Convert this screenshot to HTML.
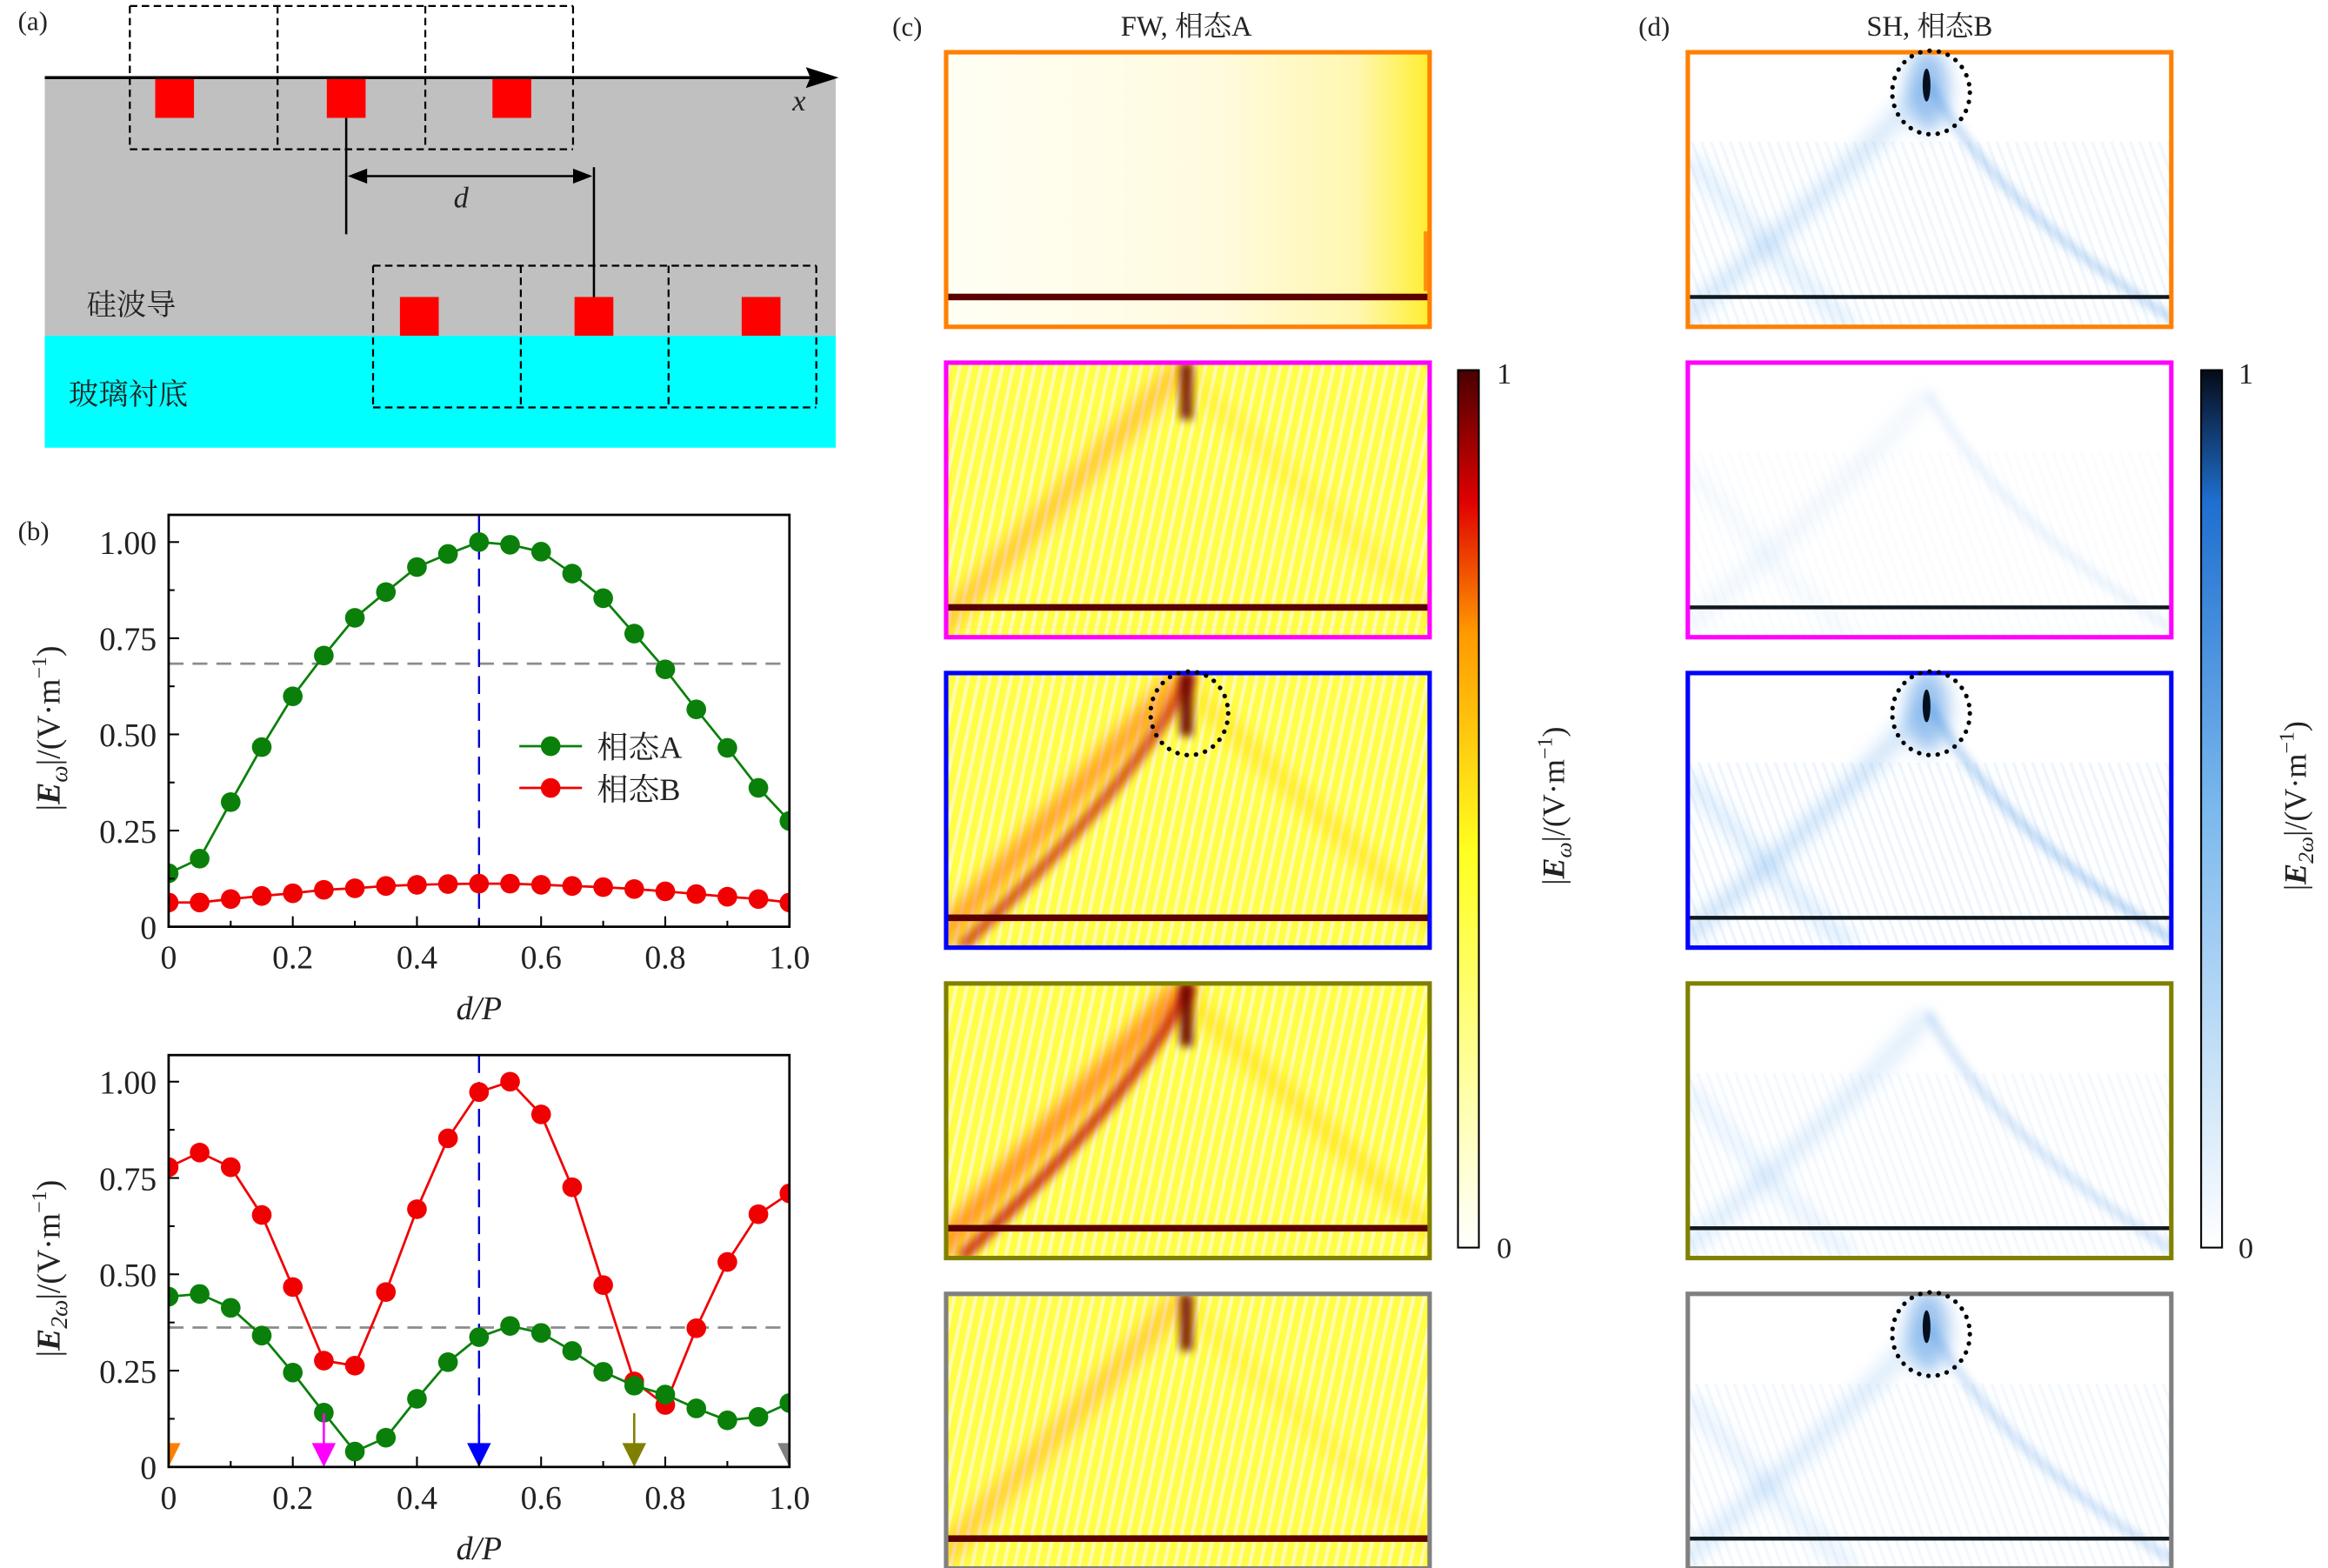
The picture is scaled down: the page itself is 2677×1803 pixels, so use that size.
<!DOCTYPE html>
<html><head><meta charset="utf-8">
<style>
html,body{margin:0;padding:0;background:#fff;}
svg{display:block;}
text{font-family:"Liberation Serif","Noto Serif CJK SC",serif;fill:#222;}
</style></head>
<body>
<svg id="fig" width="2677" height="1803" viewBox="0 0 1560 1050.7" preserveAspectRatio="none" xmlns="http://www.w3.org/2000/svg">
<defs>
  <filter id="blur3" x="-50%" y="-50%" width="200%" height="200%"><feGaussianBlur stdDeviation="3"/></filter>
  <filter id="blur6" x="-50%" y="-50%" width="200%" height="200%"><feGaussianBlur stdDeviation="6"/></filter>
  <linearGradient id="cbFW" x1="0" y1="1" x2="0" y2="0">
    <stop offset="0" stop-color="#ffffff"/><stop offset="0.45" stop-color="#ffff20"/>
    <stop offset="0.7" stop-color="#ff9a00"/><stop offset="0.85" stop-color="#e00000"/><stop offset="1" stop-color="#4a0000"/>
  </linearGradient>
  <linearGradient id="cbSH" x1="0" y1="1" x2="0" y2="0">
    <stop offset="0" stop-color="#ffffff"/><stop offset="0.5" stop-color="#7ab8ee"/>
    <stop offset="0.85" stop-color="#1f6fd0"/><stop offset="1" stop-color="#050a18"/>
  </linearGradient>
  <linearGradient id="fw1" x1="0" y1="0" x2="1" y2="0">
    <stop offset="0" stop-color="#fffef4"/><stop offset="0.55" stop-color="#fffbe0"/><stop offset="0.85" stop-color="#fff7b0"/><stop offset="1" stop-color="#ffee30"/>
  </linearGradient>
  <pattern id="stripesY" width="7" height="10" patternUnits="userSpaceOnUse" patternTransform="rotate(12)">
    <rect width="7" height="10" fill="#ffff30"/><rect width="2.5" height="10" fill="#fffcd0"/>
  </pattern>
  <pattern id="stripesB" width="6" height="10" patternUnits="userSpaceOnUse" patternTransform="rotate(-20)">
    <rect width="6" height="10" fill="#ffffff"/><rect width="2" height="10" fill="#e6f1fc"/>
  </pattern>
</defs>

<!-- ============ Panel (a) ============ -->
<g>
  <text x="12" y="20" font-size="18">(a)</text>
  <rect x="30" y="52" width="530" height="173" fill="#c0c0c0"/>
  <rect x="30" y="225" width="530" height="75" fill="#00ffff"/>
  <line x1="30" y1="52" x2="548" y2="52" stroke="#000" stroke-width="2"/>
  <polygon points="562,52 540,45 543,52 540,59" fill="#000"/>
  <text x="531" y="74" font-size="20" font-style="italic">x</text>
  <g fill="none" stroke="#000" stroke-width="1.3" stroke-dasharray="5,3">
    <line x1="87" y1="4" x2="384" y2="4"/><line x1="87" y1="100" x2="384" y2="100"/>
    <line x1="87" y1="4" x2="87" y2="100"/><line x1="186" y1="4" x2="186" y2="100"/>
    <line x1="285" y1="4" x2="285" y2="100"/><line x1="384" y1="4" x2="384" y2="100"/>
  </g>
  <g fill="none" stroke="#000" stroke-width="1.3" stroke-dasharray="5,3">
    <line x1="250" y1="178" x2="547" y2="178"/><line x1="250" y1="273" x2="547" y2="273"/>
    <line x1="250" y1="178" x2="250" y2="273"/><line x1="349" y1="178" x2="349" y2="273"/>
    <line x1="448" y1="178" x2="448" y2="273"/><line x1="547" y1="178" x2="547" y2="273"/>
  </g>
  <g fill="#ff0000">
    <rect x="104" y="53" width="26" height="26"/><rect x="219" y="53" width="26" height="26"/><rect x="330" y="53" width="26" height="26"/>
  </g>
  <g fill="#ff0000">
    <rect x="268" y="199" width="26" height="26"/><rect x="385" y="199" width="26" height="26"/><rect x="497" y="199" width="26" height="26"/>
  </g>
  <line x1="232" y1="79" x2="232" y2="157" stroke="#000" stroke-width="1.5"/>
  <line x1="398" y1="112" x2="398" y2="199" stroke="#000" stroke-width="1.5"/>
  <line x1="240" y1="118" x2="390" y2="118" stroke="#000" stroke-width="1.5"/>
  <polygon points="233,118 246,113 246,123" fill="#000"/>
  <polygon points="397,118 384,113 384,123" fill="#000"/>
  <text x="304" y="139" font-size="20" font-style="italic">d</text>
  <text x="58" y="211" font-size="20">硅波导</text>
  <text x="46" y="271" font-size="20">玻璃衬底</text>
</g>

<!-- ============ Panel (b) ============ -->
<g id="plotTop"></g>
<g id="plotBot"></g>
<text x="12" y="362" font-size="18">(b)</text>

<!-- ============ Panel (c) ============ -->
<text x="598" y="24" font-size="18">(c)</text>
<text x="795" y="24" font-size="19" text-anchor="middle">FW, 相态A</text>
<g id="fwMaps"></g>
<rect x="977" y="248" width="14" height="588" fill="url(#cbFW)" stroke="#000" stroke-width="1.2"/>
<text x="1003" y="257" font-size="20">1</text>
<text x="1003" y="843" font-size="20">0</text>
<text transform="translate(1048,540) rotate(-90)" font-size="21" text-anchor="middle">|<tspan font-weight="bold" font-style="italic">E</tspan><tspan font-style="italic" font-size="15" dy="5">ω</tspan><tspan dy="-5">|/(V·m</tspan><tspan font-size="14" dy="-8">−1</tspan><tspan dy="8">)</tspan></text>

<!-- ============ Panel (d) ============ -->
<text x="1098" y="24" font-size="18">(d)</text>
<text x="1293" y="24" font-size="19" text-anchor="middle">SH, 相态B</text>
<g id="shMaps"></g>
<rect x="1475" y="248" width="14" height="588" fill="url(#cbSH)" stroke="#000" stroke-width="1.2"/>
<text x="1500" y="257" font-size="20">1</text>
<text x="1500" y="843" font-size="20">0</text>
<text transform="translate(1545,540) rotate(-90)" font-size="21" text-anchor="middle">|<tspan font-weight="bold" font-style="italic">E</tspan><tspan font-style="italic" font-size="15" dy="5">2ω</tspan><tspan dy="-5">|/(V·m</tspan><tspan font-size="14" dy="-8">−1</tspan><tspan dy="8">)</tspan></text>
</svg>

<script>
// ---------- chart data ----------
const dOverP = [0,0.05,0.1,0.15,0.2,0.25,0.3,0.35,0.4,0.45,0.5,0.55,0.6,0.65,0.7,0.75,0.8,0.85,0.9,0.95,1.0];
const fwStateA = [0.139,0.177,0.324,0.467,0.599,0.705,0.803,0.870,0.935,0.969,1.0,0.993,0.975,0.918,0.854,0.762,0.669,0.565,0.465,0.361,0.275];
const fwStateB = [0.063,0.063,0.072,0.080,0.087,0.096,0.100,0.106,0.109,0.111,0.112,0.112,0.109,0.106,0.103,0.098,0.092,0.085,0.078,0.072,0.063];
const shStateB = [0.778,0.816,0.778,0.654,0.467,0.276,0.263,0.454,0.669,0.853,0.973,1.0,0.915,0.726,0.472,0.222,0.161,0.360,0.532,0.656,0.710];
const shStateA = [0.442,0.449,0.413,0.341,0.245,0.141,0.040,0.076,0.177,0.272,0.337,0.366,0.348,0.301,0.247,0.211,0.188,0.152,0.121,0.130,0.166];
const fwThreshold = 0.684;
const shThreshold = 0.362;
const xTicks = [0,0.2,0.4,0.6,0.8,1.0];
const xTickLabels = ["0","0.2","0.4","0.6","0.8","1.0"];
const yTicks = [0,0.25,0.5,0.75,1.0];
const yTickLabels = ["0","0.25","0.50","0.75","1.00"];
const markerPositions = [0,0.25,0.5,0.75,1.0];
const markerColors = ["#ff8000","#ff00ff","#0000ff","#808000","#808080"];
const legendLabels = ["相态A","相态B"];

const NS = "http://www.w3.org/2000/svg";
function mk(tag, attrs, parent){
  const e = document.createElementNS(NS, tag);
  for (const k in attrs) e.setAttribute(k, attrs[k]);
  if (parent) parent.appendChild(e);
  return e;
}

function drawPlot(g, cfg){
  const L=113, R=529, T=cfg.top, B=cfg.bottom, ymax=cfg.ymax;
  const sx = v => L + v*(R-L);
  const sy = v => B - v/ymax*(B-T);
  const cp = mk("clipPath",{id:cfg.id+"clip"},g);
  mk("rect",{x:L,y:T,width:R-L,height:B-T},cp);
  const th = mk("line",{x1:L,x2:R,y1:sy(cfg.threshold),y2:sy(cfg.threshold),stroke:"#8c8c8c","stroke-width":1.6,"stroke-dasharray":"10,6"},g);
  
  
  const vl = mk("line",{x1:sx(0.5),x2:sx(0.5),y1:T,y2:B,stroke:"#0000cc","stroke-width":1.4,"stroke-dasharray":"12,6"},g);
  
  
  cfg.series.forEach(s=>{
    const sg = mk("g",{"clip-path":"url(#"+cfg.id+"clip)"},g);
    
    
    const pts = dOverP.map((x,i)=>sx(x)+","+sy(s.vals[i])).join(" ");
    mk("polyline",{points:pts,fill:"none",stroke:s.color,"stroke-width":1.6},sg);
    dOverP.forEach((x,i)=>{
      const c = mk("circle",{cx:sx(x),cy:sy(s.vals[i]),r:6.6,fill:s.color},sg);
      
      
    });
  });
  if (cfg.arrows){
    markerPositions.forEach((p,i)=>{
      const ag = mk("g",{"clip-path":"url(#"+cfg.id+"clip)"},g);
      
      
      const x = sx(p);
      mk("line",{x1:x,x2:x,y1:B-36,y2:B-12,stroke:markerColors[i],"stroke-width":1.5},ag);
      mk("polygon",{points:(x-8)+","+(B-16)+" "+(x+8)+","+(B-16)+" "+x+","+B,fill:markerColors[i]},ag);
    });
  }
  const fr = mk("rect",{x:L,y:T,width:R-L,height:B-T,fill:"none",stroke:"#000","stroke-width":1.6},g);
  
  
  for (let k=0;k<=10;k++){
    const v=k/10, major = (k%2===0);
    mk("line",{x1:sx(v),x2:sx(v),y1:B,y2:B-(major?7:4),stroke:"#000","stroke-width":1.2},g);
  }
  xTicks.forEach((v,i)=>{
    const t = mk("text",{x:sx(v),y:B+28,"font-size":22,"text-anchor":"middle"},g);
    t.textContent = xTickLabels[i];
    
    
  });
  for (let k=0;k<=8;k++){
    const v=k*0.125, major=(k%2===0);
    mk("line",{x1:L,x2:L+(major?7:4),y1:sy(v),y2:sy(v),stroke:"#000","stroke-width":1.2},g);
  }
  yTicks.forEach((v,i)=>{
    const t = mk("text",{x:105,y:sy(v)+8,"font-size":22,"text-anchor":"end"},g);
    t.textContent = yTickLabels[i];
    
    
  });
  const xt = mk("text",{x:(L+R)/2,y:B+62,"font-size":22,"text-anchor":"middle","font-style":"italic"},g);
  xt.textContent = "d/P";
  
  
  const yt = mk("text",{transform:"translate(40,"+((T+B)/2+5)+") rotate(-90)","font-size":22,"text-anchor":"middle"},g);
  yt.innerHTML = cfg.ylabel;
  
  
  if (cfg.legend){
    const lg = mk("g",{},g);
    
    
    cfg.series.forEach((s,i)=>{
      const y = 500 + i*28;
      const e = mk("g",{},lg);
      
      
      mk("line",{x1:348,x2:390,y1:y,y2:y,stroke:s.color,"stroke-width":1.6},e);
      mk("circle",{cx:369,cy:y,r:6.6,fill:s.color},e);
      const t = mk("text",{x:400,y:y+8,"font-size":21},e);
      t.textContent = legendLabels[i];
    });
  }
}

drawPlot(document.getElementById("plotTop"),{
  id:"pt", top:345, bottom:621, ymax:1.0707, threshold:fwThreshold, legend:true,
  series:[{name:"fw-state-a",vals:fwStateA,color:"#0a800a"},{name:"fw-state-b",vals:fwStateB,color:"#f00000"}],
  ylabel:'|<tspan font-weight="bold" font-style="italic">E</tspan><tspan font-style="italic" font-size="16" dy="5">ω</tspan><tspan dy="-5">|/(V·m</tspan><tspan font-size="14" dy="-9">−1</tspan><tspan dy="9">)</tspan>'
});
drawPlot(document.getElementById("plotBot"),{
  id:"pb", top:707, bottom:983, ymax:1.069, threshold:shThreshold, legend:false, arrows:true,
  series:[{name:"sh-state-b",vals:shStateB,color:"#f00000"},{name:"sh-state-a",vals:shStateA,color:"#0a800a"}],
  ylabel:'|<tspan font-weight="bold" font-style="italic">E</tspan><tspan font-style="italic" font-size="16" dy="5">2ω</tspan><tspan dy="-5">|/(V·m</tspan><tspan font-size="14" dy="-9">−1</tspan><tspan dy="9">)</tspan>'
});

// ---------- field maps ----------
const panelColors = ["#ff8000","#ff00ff","#0000ff","#808000","#808080"];
const fwStrength = [0.15,0.45,0.85,1.0,0.4];
const shStrength = [0.6,0.2,0.7,0.45,0.5];
const shCircle = [true,false,true,false,true];

function drawMaps(g, x0, kind){
  const W=324, H=184;
  panelColors.forEach((col,i)=>{
    const y0 = 35 + 208*i;
    const pg = mk("g",{},g);
    
    
    const cp = mk("clipPath",{id:kind+"c"+i},pg);
    mk("rect",{x:x0,y:y0,width:W,height:H},cp);
    const ig = mk("g",{"clip-path":"url(#"+kind+"c"+i+")"},pg);
    const cx = x0 + 161, lineY = y0 + 164;
    if (kind==="fw"){
      if (i===0){
        mk("rect",{x:x0,y:y0,width:W,height:H,fill:"url(#fw1)"},ig);
      } else {
        mk("rect",{x:x0,y:y0,width:W,height:H,fill:"url(#stripesY)"},ig);
        mk("rect",{x:x0,y:y0,width:W,height:H,fill:"#fff870",opacity:0.35},ig);
      }
      const s = fwStrength[i];
      if (i>0){
        mk("path",{d:"M"+cx+","+y0+" L"+(x0-10)+","+(y0+H),stroke:"#ff5a00","stroke-width":14,opacity:0.7*s,fill:"none",filter:"url(#blur6)"},ig);
        mk("path",{d:"M"+cx+","+(y0+10)+" L"+(x0+W+20)+","+(y0+H),stroke:"#ffd000","stroke-width":12,opacity:0.5*s,fill:"none",filter:"url(#blur6)"},ig);
        if (i===2||i===3){
          mk("path",{d:"M"+(cx+3)+","+y0+" Q"+(cx-30)+","+(y0+70)+" "+(x0+10)+","+(y0+H),stroke:"#c00000","stroke-width":8,opacity:s*0.75,fill:"none",filter:"url(#blur3)"},ig);
        }
        mk("rect",{x:cx-4,y:y0,width:8,height:(i===2||i===3)?42:38,fill:"#6a0000",filter:"url(#blur3)",opacity:(i===1||i===4)?0.9:1},ig);
      } else {
        mk("rect",{x:x0+W-4,y:y0+120,width:4,height:40,fill:"#ff6a00",opacity:0.7},ig);
      }
      const ln = mk("rect",{x:x0,y:lineY-2.2,width:W,height:4.4,fill:"#5a0000"},ig);
      
      
    } else {
      mk("rect",{x:x0,y:y0,width:W,height:H,fill:"#ffffff"},ig);
      const s = shStrength[i];
      mk("rect",{x:x0,y:y0+60,width:W,height:H-60,fill:"url(#stripesB)",opacity:s},ig);
      mk("path",{d:"M"+cx+","+(y0+20)+" Q"+(cx-60)+","+(y0+90)+" "+(x0-10)+","+(y0+H),stroke:"#4a9ae8","stroke-width":10,opacity:0.45*s,fill:"none",filter:"url(#blur6)"},ig);
      mk("path",{d:"M"+cx+","+(y0+20)+" Q"+(cx+50)+","+(y0+110)+" "+(x0+W+10)+","+(y0+H),stroke:"#3a8ae0","stroke-width":5,opacity:0.6*s,fill:"none",filter:"url(#blur3)"},ig);
      mk("path",{d:"M"+(x0)+","+(y0+70)+" Q"+(x0+60)+","+(y0+140)+" "+(x0+110)+","+(y0+H),stroke:"#5aa5ee","stroke-width":8,opacity:0.4*s,fill:"none",filter:"url(#blur6)"},ig);
      if (shCircle[i]){
        mk("ellipse",{cx:cx,cy:y0+25,rx:14,ry:28,fill:"#3a8ae0",opacity:0.5,filter:"url(#blur6)"},ig);
        mk("ellipse",{cx:cx-1,cy:y0+22,rx:2.6,ry:11,fill:"#05101f"},ig);
      }
      const ln = mk("rect",{x:x0,y:lineY-1.3,width:W,height:2.6,fill:"#101820"},ig);
      
      
    }
    const b = mk("rect",{x:x0,y:y0,width:W,height:H,fill:"none",stroke:col,"stroke-width":3},pg);
    
    
    const showCircle = (kind==="fw" && i===2) || (kind==="sh" && shCircle[i]);
    if (showCircle){
      const c = mk("ellipse",{cx:x0+163,cy:y0+27,rx:26,ry:28,fill:"none",stroke:"#000","stroke-width":3,"stroke-dasharray":"0.1,6.2","stroke-linecap":"round"},pg);
      
      
    }
  });
}
drawMaps(document.getElementById("fwMaps"), 634, "fw");
drawMaps(document.getElementById("shMaps"), 1131, "sh");
</script>
</body></html>
